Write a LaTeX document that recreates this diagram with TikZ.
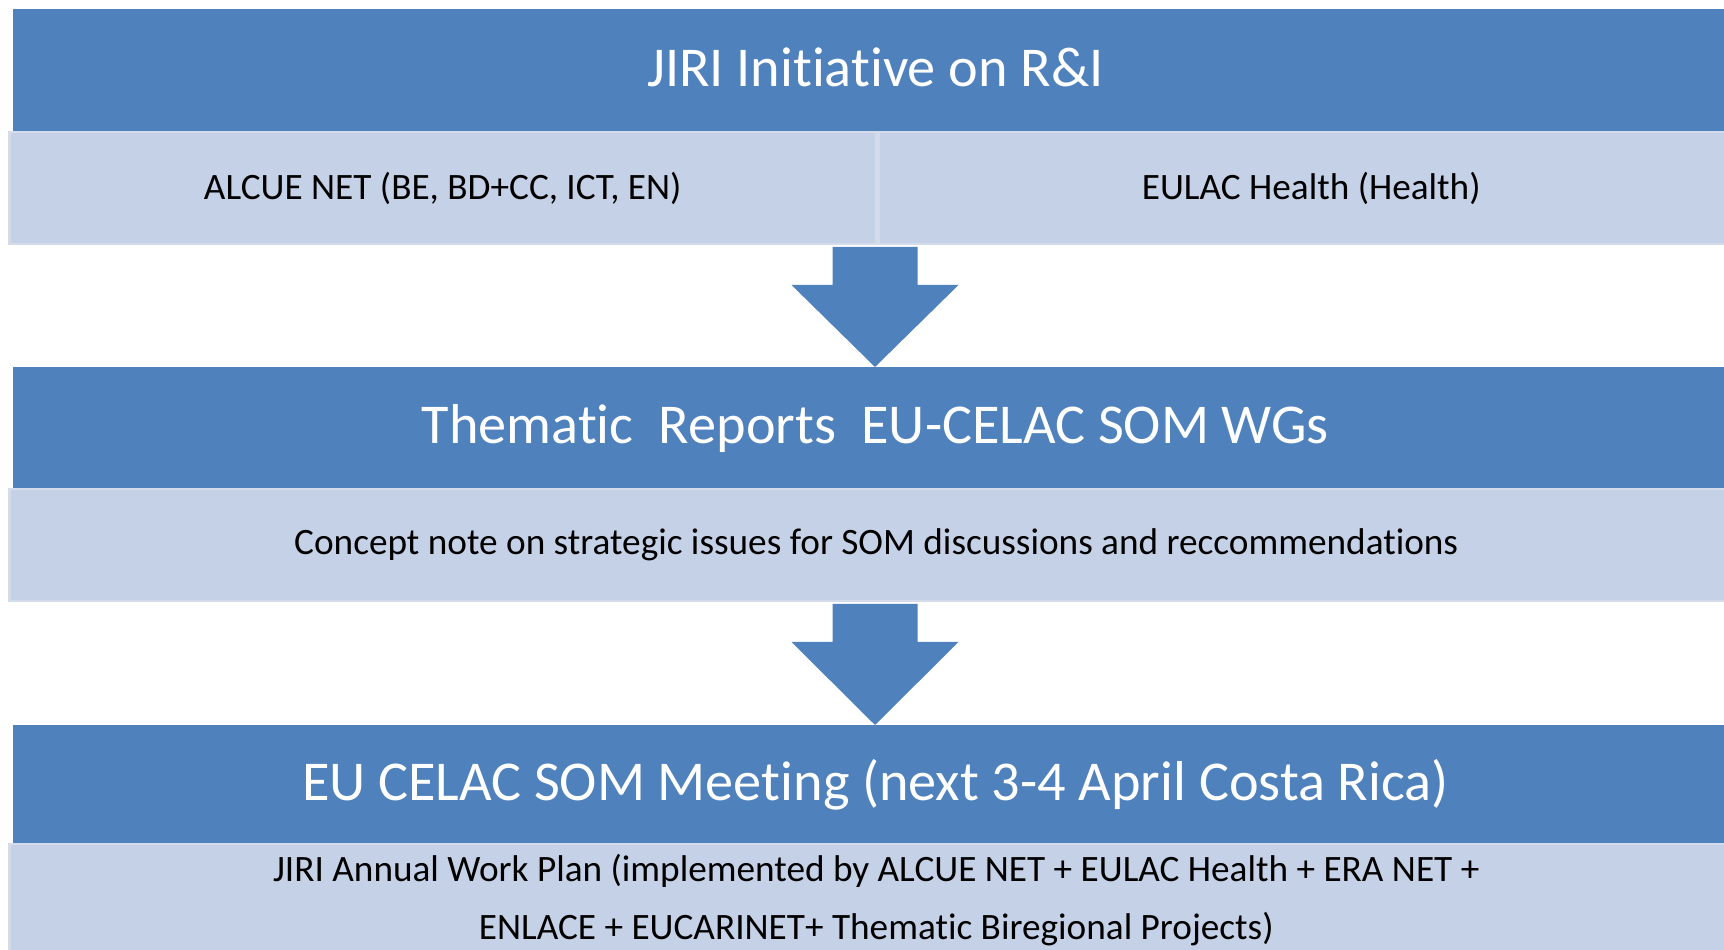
\documentclass[tikz,border=0pt]{standalone}
\usepackage{fontspec}
\setmainfont{Carlito}[Ligatures=NoCommon]
\usepackage{tikz}
\usetikzlibrary{calc,positioning}
\definecolor{officeblue}{RGB}{79,129,189}
\definecolor{paleblue}{RGB}{197,209,231}
\definecolor{paleedge}{RGB}{212,220,235}

\newcommand{\blockpfeil}[2]{%
  \fill[officeblue] ($(#1)+(-0.85,0)$) -- ($(#1)+(-0.85,-0.76)$) -- ($(#1)+(-1.67,-0.76)$)
    -- (#2) -- ($(#1)+(1.67,-0.76)$) -- ($(#1)+(0.85,-0.76)$) -- ($(#1)+(0.85,0)$) -- cycle;}

\begin{document}
\begin{tikzpicture}[
    dark/.style={fill=officeblue, text=white, inner sep=0pt, anchor=north west,
        text height=24pt, text depth=6pt, font=\fontsize{32}{36}\selectfont},
    pale/.style={fill=paleblue, draw=paleedge, line width=0.05cm, inner sep=0pt,
        anchor=north west, text=black, font=\fontsize{21.2}{33}\selectfont}
]
    \useasboundingbox[fill=white] (0,0) rectangle (34.48,19);

    % first level
    \node[dark, minimum width=34.48cm, minimum height=2.44cm] (jiri) at (0.26,18.82) {JIRI Initiative on R\&I};
    \node[pale, minimum width=17.34cm, minimum height=2.24cm] (alcue) at (0.16,16.38) {ALCUE NET (BE, BD+CC, ICT, EN)};
    \node[pale, minimum width=17.30cm, minimum height=2.24cm] (eulac) at (alcue.north east) {EULAC Health (Health)};

    % second level
    \node[dark, minimum width=34.48cm, minimum height=2.42cm] (thema) at (0.26,11.66) {Thematic\ \ Reports\ \ EU-CELAC SOM WGs};
    \node[pale, minimum width=34.68cm, minimum height=2.24cm] (concept) at (0.16,9.24) {Concept note on strategic issues for SOM discussions and reccommendations};

    % third level
    \node[dark, minimum width=34.48cm, minimum height=2.36cm] (meeting) at (0.26,4.50) {EU CELAC SOM Meeting (next 3-4 April Costa Rica)};
    \node[pale, minimum width=34.68cm, minimum height=2.6cm] (planbox) at (0.16,2.14) {};
    \node[align=center, inner sep=0pt, font=\fontsize{21.2}{33}\selectfont] (plan) at ($(planbox.north)+(0,-1.14)$)
        {JIRI Annual Work Plan (implemented by ALCUE NET + EULAC Health + ERA NET +\\ENLACE + EUCARINET+ Thematic Biregional Projects)};

    \blockpfeil{$(alcue.south east)+(-0.05,-0.03)$}{$(alcue.south east |- thema.north)+(-0.05,0)$}
    \blockpfeil{$(alcue.south east |- concept.south)+(-0.05,-0.03)$}{$(alcue.south east |- meeting.north)+(-0.05,0)$}

\end{tikzpicture}
\end{document}
